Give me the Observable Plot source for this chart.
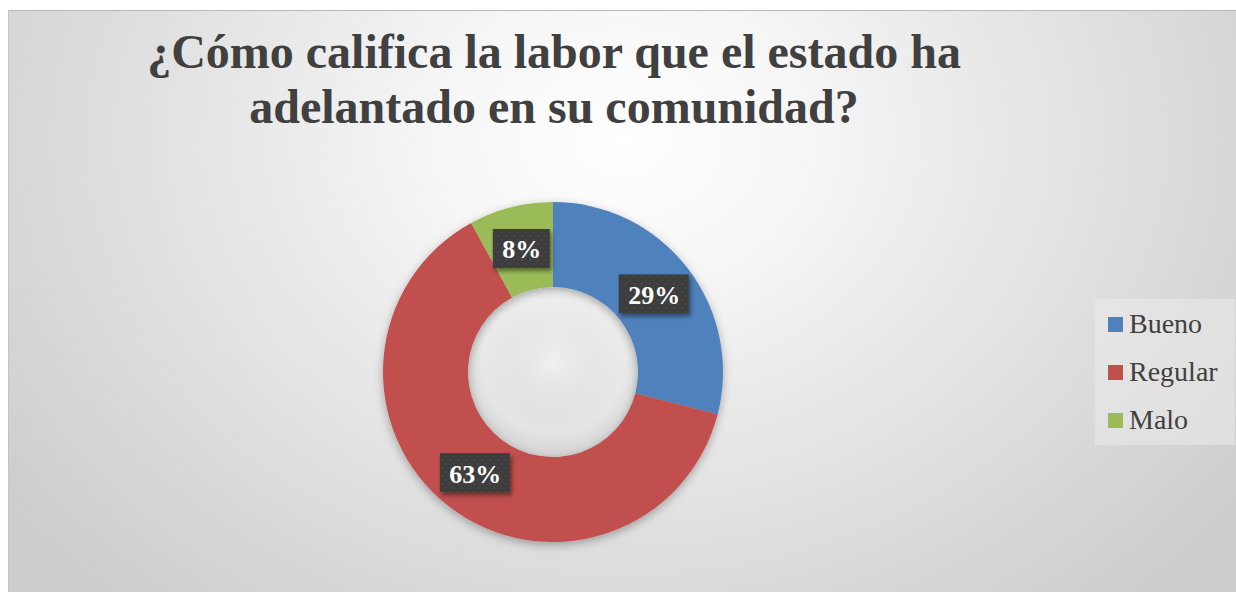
<!DOCTYPE html>
<html>
<head>
<meta charset="utf-8">
<script src="https://cdn.jsdelivr.net/npm/d3@7"></script>
<script src="https://cdn.jsdelivr.net/npm/@observablehq/plot@0.6"></script>
<style>
  html, body { margin: 0; padding: 0; background: #ffffff; }
  body { width: 1236px; height: 592px; position: relative; overflow: hidden; }
  #chart {
    position: absolute; left: 8px; top: 10px; width: 1228px; height: 582px;
    box-sizing: border-box;
    border-top: 1px solid #b8b8b8; border-left: 1px solid #c4c4c4;
    background: radial-gradient(ellipse 62% 105% at 50% 22%, #ffffff 0%, #f7f7f7 22%, #e5e5e5 55%, #cdcdcd 100%);
    overflow: hidden;
  }
  #title {
    position: absolute; left: 0; top: 13px; width: 1090px; text-align: center;
    font-family: 'Liberation Serif', 'DejaVu Serif', serif; font-weight: 700;
    font-size: 48px; line-height: 55px; color: #404040;
  }
  #plot { position: absolute; left: -1px; top: -1px; }
  #legend {
    position: absolute; left: 1086px; top: 288px; width: 140px; height: 146px;
    background: rgba(235,235,235,0.55);
    font-family: 'Liberation Serif', 'DejaVu Serif', serif; font-size: 28px; color: #404040;
  }
  .item { position: absolute; left: 13px; height: 30px; display: flex; align-items: center; }
  .sw { width: 15px; height: 15px; margin-right: 6px; }
</style>
</head>
<body>
<div id="chart">
  <div id="title">¿Cómo califica la labor que el estado ha<br>adelantado en su comunidad?</div>
  <div id="plot"></div>
  <div id="legend"></div>
</div>
<script>
const categories = ["Bueno", "Regular", "Malo"];
const values = [29, 63, 8];
const labels = ["29%", "63%", "8%"];
const colors = ["#4F81BD", "#C0504D", "#9BBB59"];

const colorScale = Plot.scale({color: {type: "ordinal", domain: categories, range: colors}});

const total = d3.sum(values);
let acc = 0;
const slices = categories.map((c, i) => {
  const a0 = acc / total * 2 * Math.PI;
  acc += values[i];
  const a1 = acc / total * 2 * Math.PI;
  const mid = (a0 + a1) / 2;
  return {category: c, value: values[i], label: labels[i], a0, a1,
          lx: 0.75 * Math.sin(mid), ly: 0.75 * Math.cos(mid)};
});

const W = 1228, H = 582, CX = 545, CY = 362, R = 170;
const labelFont = "bold 26px 'Liberation Serif'";
const ctx2d = document.createElement("canvas").getContext("2d");
ctx2d.font = labelFont;

function donut(index, scales, values, dimensions) {
  const g = d3.create("svg:g");
  const defs = g.append("defs");
  const f1 = defs.append("filter").attr("id", "dshadow").attr("x", "-20%").attr("y", "-20%").attr("width", "140%").attr("height", "140%");
  f1.append("feDropShadow").attr("dx", 0).attr("dy", 3).attr("stdDeviation", 5).attr("flood-color", "#000").attr("flood-opacity", 0.3);
  const f2 = defs.append("filter").attr("id", "bshadow").attr("x", "-30%").attr("y", "-30%").attr("width", "160%").attr("height", "160%");
  f2.append("feDropShadow").attr("dx", 2).attr("dy", 3).attr("stdDeviation", 2).attr("flood-color", "#000").attr("flood-opacity", 0.45);
  const pat = defs.append("pattern").attr("id", "dots").attr("width", 8).attr("height", 8).attr("patternUnits", "userSpaceOnUse");
  pat.append("rect").attr("width", 8).attr("height", 8).attr("fill", "#3c3c3c");
  pat.append("circle").attr("cx", 2).attr("cy", 2).attr("r", 1.1).attr("fill", "#4b4b4b");
  pat.append("circle").attr("cx", 6).attr("cy", 6).attr("r", 1.1).attr("fill", "#474747");
  const hg = defs.append("radialGradient").attr("id", "hole").attr("cx", "50%").attr("cy", "45%").attr("r", "55%");
  hg.append("stop").attr("offset", "0%").attr("stop-color", "#ffffff").attr("stop-opacity", 0.12);
  hg.append("stop").attr("offset", "75%").attr("stop-color", "#000000").attr("stop-opacity", 0.02);
  hg.append("stop").attr("offset", "100%").attr("stop-color", "#000000").attr("stop-opacity", 0.08);

  const cx = scales.x(0), cy = scales.y(0);
  const ro = scales.x(1) - scales.x(0);
  const arc = d3.arc().innerRadius(ro * 0.5).outerRadius(ro);
  g.append("circle").attr("cx", cx).attr("cy", cy).attr("r", ro * 0.5).attr("fill", "url(#hole)");
  const ring = g.append("g").attr("transform", `translate(${cx},${cy})`).attr("filter", "url(#dshadow)");
  ring.selectAll("path").data(slices).join("path")
    .attr("d", d => arc({startAngle: d.a0, endAngle: d.a1}))
    .attr("fill", d => colorScale.apply(d.category));

  const bh = 39;
  g.append("g").selectAll("rect").data(slices).join("rect")
    .attr("x", d => scales.x(d.lx) - (ctx2d.measureText(d.label).width + 18) / 2)
    .attr("y", d => scales.y(d.ly) - bh / 2)
    .attr("width", d => ctx2d.measureText(d.label).width + 18)
    .attr("height", bh)
    .attr("fill", "url(#dots)")
    .attr("filter", "url(#bshadow)");
  return g.node();
}

const plot = Plot.plot({
  width: W, height: H,
  margin: 0,
  style: {background: "transparent", overflow: "visible"},
  x: {domain: [-1, 1], range: [CX - R, CX + R], axis: null},
  y: {domain: [-1, 1], range: [CY + R, CY - R], axis: null},
  marks: [
    donut,
    Plot.text(slices, {
      x: "lx", y: "ly", text: "label",
      fill: "#ffffff", fontSize: 26, fontWeight: "bold",
      fontFamily: "Liberation Serif", textAnchor: "middle", lineAnchor: "middle", dy: 1
    })
  ]
});
document.getElementById("plot").appendChild(plot);

const legend = d3.select("#legend");
categories.forEach((c, i) => {
  const it = legend.append("div").attr("class", "item").style("top", `${10 + i * 48}px`);
  it.append("div").attr("class", "sw").style("background", colorScale.apply(c));
  it.append("span").text(c);
});
</script>
</body>
</html>
